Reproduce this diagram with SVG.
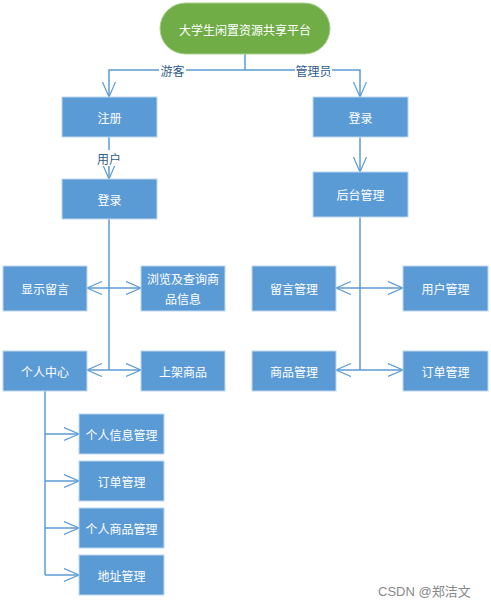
<svg xmlns="http://www.w3.org/2000/svg" width="491" height="606" viewBox="0 0 491 606">
<style>
.box{fill:#5B9BD5;stroke:#BDD7EE;stroke-width:1}
.t{font-family:"Noto Sans CJK SC","Liberation Sans",sans-serif;font-size:12px;fill:#fff;text-anchor:middle;dominant-baseline:central}
.lbl{font-family:"Noto Sans CJK SC","Liberation Sans",sans-serif;font-size:12px;fill:#2E5C8A;text-anchor:middle;dominant-baseline:central}
.ln{fill:none;stroke:#5B9BD5;stroke-width:1.5}
.wm{font-family:"Liberation Sans","Noto Sans CJK SC",sans-serif;font-size:13px;fill:#888}
</style>
<defs>
<marker id="ah" markerUnits="userSpaceOnUse" markerWidth="18" markerHeight="15" refX="15.5" refY="7" orient="auto-start-reverse">
<path d="M0.5,0.5 L15.5,7 L0.5,13.5" fill="none" stroke="#5B9BD5" stroke-width="1.2"/>
</marker>
</defs>
<g id="connectors">
<path class="ln" d="M245,54 V70"/>
<path class="ln" d="M245,70 H109 V97" marker-end="url(#ah)"/>
<path class="ln" d="M245,70 H360 V97" marker-end="url(#ah)"/>
<rect x="159" y="62" width="27" height="16" fill="#fff"/>
<text class="lbl" x="172.5" y="70">游客</text>
<rect x="295" y="62" width="37" height="16" fill="#fff"/>
<text class="lbl" x="313.5" y="70">管理员</text>
<path class="ln" d="M109,137 V179" marker-end="url(#ah)"/>
<rect x="95" y="150" width="28" height="16" fill="#fff"/>
<text class="lbl" x="109" y="158">用户</text>
<path class="ln" d="M109,219 V370"/>
<path class="ln" d="M87,288 H141" marker-start="url(#ah)" marker-end="url(#ah)"/>
<path class="ln" d="M87,370 H141" marker-start="url(#ah)" marker-end="url(#ah)"/>
<path class="ln" d="M360,137 V172" marker-end="url(#ah)"/>
<path class="ln" d="M360,217 V370"/>
<path class="ln" d="M336,288 H403" marker-start="url(#ah)" marker-end="url(#ah)"/>
<path class="ln" d="M336,370 H403" marker-start="url(#ah)" marker-end="url(#ah)"/>
<path class="ln" d="M45,391 V575"/>
<path class="ln" d="M45,434 H79" marker-end="url(#ah)"/>
<path class="ln" d="M45,481 H79" marker-end="url(#ah)"/>
<path class="ln" d="M45,528 H79" marker-end="url(#ah)"/>
<path class="ln" d="M45,575 H79" marker-end="url(#ah)"/>
</g>
<g id="root"><rect x="160" y="3" width="170" height="51" rx="25.5" fill="#70AD47" stroke="#A9D18E"/><text class="t" x="245" y="29">大学生闲置资源共享平台</text></g>
<g id="register"><rect class="box" x="62" y="97" width="95" height="40"/><text class="t" x="109.5" y="117">注册</text></g>
<g id="login-user"><rect class="box" x="62" y="179" width="95" height="40"/><text class="t" x="109.5" y="199">登录</text></g>
<g id="show-msg"><rect class="box" x="3" y="266" width="84" height="45"/><text class="t" x="45" y="288.5">显示留言</text></g>
<g id="browse"><rect class="box" x="141" y="266" width="84" height="45"/><text class="t" x="183" y="278">浏览及查询商</text><text class="t" x="183" y="298">品信息</text></g>
<g id="center"><rect class="box" x="3" y="351" width="84" height="40"/><text class="t" x="45" y="371">个人中心</text></g>
<g id="publish"><rect class="box" x="141" y="351" width="84" height="40"/><text class="t" x="183" y="371">上架商品</text></g>
<g id="login-admin"><rect class="box" x="313" y="97" width="95" height="40"/><text class="t" x="360.5" y="117">登录</text></g>
<g id="backend"><rect class="box" x="313" y="172" width="95" height="45"/><text class="t" x="360.5" y="194.5">后台管理</text></g>
<g id="msg-mgmt"><rect class="box" x="252" y="266" width="84" height="45"/><text class="t" x="294" y="288.5">留言管理</text></g>
<g id="user-mgmt"><rect class="box" x="403" y="266" width="85" height="45"/><text class="t" x="445.5" y="288.5">用户管理</text></g>
<g id="goods-mgmt"><rect class="box" x="252" y="351" width="84" height="40"/><text class="t" x="294" y="371">商品管理</text></g>
<g id="order-mgmt"><rect class="box" x="403" y="351" width="85" height="40"/><text class="t" x="445.5" y="371">订单管理</text></g>
<g id="info-mgmt"><rect class="box" x="79" y="414" width="85" height="40"/><text class="t" x="121.5" y="434">个人信息管理</text></g>
<g id="my-order"><rect class="box" x="79" y="461" width="85" height="40"/><text class="t" x="121.5" y="481">订单管理</text></g>
<g id="my-goods"><rect class="box" x="79" y="508" width="85" height="40"/><text class="t" x="121.5" y="528">个人商品管理</text></g>
<g id="address"><rect class="box" x="79" y="555" width="85" height="40"/><text class="t" x="121.5" y="575">地址管理</text></g>
<text class="wm" x="378" y="596">CSDN @郑洁文</text>
</svg>
